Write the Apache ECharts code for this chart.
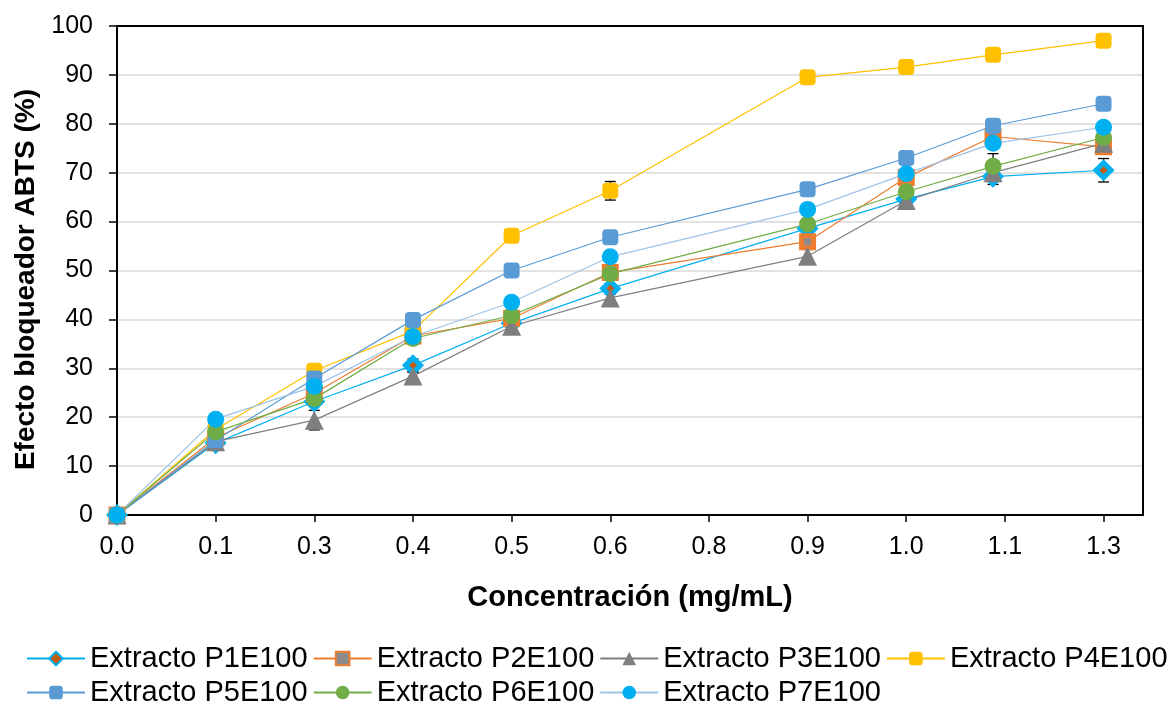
<!DOCTYPE html>
<html>
<head>
<meta charset="utf-8">
<script src="https://cdn.jsdelivr.net/npm/echarts@6/dist/echarts.min.js"></script>
<style>
  html, body { margin: 0; padding: 0; background: #ffffff; }
  #chart { width: 1171px; height: 706px; }
</style>
</head>
<body>
<div id="chart"></div>
<script>
// Concentrations (mg/mL) at which each extract was measured
const concentrations = [0, 0.125, 0.25, 0.375, 0.5, 0.625, 0.875, 1.0, 1.11, 1.25];

// X-axis tick positions and their printed labels
const xTickValues = [0, 0.125, 0.25, 0.375, 0.5, 0.625, 0.75, 0.875, 1.0, 1.125, 1.25];
const xTickLabels = ['0.0', '0.1', '0.3', '0.4', '0.5', '0.6', '0.8', '0.9', '1.0', '1.1', '1.3'];

const seriesNames = ['Extracto P1E100', 'Extracto P2E100', 'Extracto P3E100', 'Extracto P4E100',
                     'Extracto P5E100', 'Extracto P6E100', 'Extracto P7E100'];

// ABTS blocking effect (%) per extract
const p1 = [0, 14.7, 23.2, 30.6, 39.2, 46.3, 58.6, 64.6, 69.2, 70.5];
const p2 = [0, 15.8, 24.9, 36.6, 40.2, 49.6, 55.9, 69.0, 77.4, 75.3];
const p3 = [0, 15.0, 19.4, 28.4, 38.6, 44.4, 52.9, 64.3, 70.0, 76.0];
const p4 = [0, 17.5, 29.5, 37.6, 57.1, 66.3, 89.5, 91.6, 94.1, 97.0];
const p5 = [0, 15.3, 27.9, 39.9, 50.0, 56.8, 66.6, 73.0, 79.6, 84.1];
const p6 = [0, 17.0, 23.8, 36.1, 40.8, 49.3, 59.5, 66.1, 71.3, 77.2];
const p7 = [0, 19.6, 26.3, 36.5, 43.5, 52.8, 62.5, 69.8, 76.0, 79.3];

// Standard deviations (%)
const p1Err = [0, 0.6, 0.8, 1.3, 0.8, 0.9, 0.8, 0.8, 1.6, 2.4];
const p2Err = [0, 0.6, 0.8, 0.8, 0.8, 0.8, 0.8, 0.8, 0.8, 0.8];
const p3Err = [0, 0.6, 2.0, 0.8, 1.2, 0.8, 1.4, 0.8, 0.8, 0.8];
const p4Err = [0, 0.6, 0.8, 0.8, 0.8, 1.9, 0.8, 0.8, 0.8, 0.8];
const p5Err = [0, 0.6, 0.8, 0.8, 0.8, 0.8, 0.8, 0.8, 0.8, 0.8];
const p6Err = [0, 0.6, 0.8, 0.8, 0.8, 0.8, 0.8, 0.8, 2.6, 0.8];
const p7Err = [0, 0.6, 0.8, 0.8, 0.8, 0.8, 0.8, 0.8, 0.8, 0.8];

const FONT = 'Liberation Sans, Arial, sans-serif';

const styles = [
  { line: '#00b0f0', symbol: 'diamond',  size: 15, fill: '#c55a11', border: '#00b0f0', bw: 5 },
  { line: '#ed7d31', symbol: 'rect',     size: 12, fill: '#8c8c8c', border: '#ed7d31', bw: 5 },
  { line: '#7f7f7f', symbol: 'triangle', size: 19, fill: '#7f7f7f', border: '#7f7f7f', bw: 0 },
  { line: '#ffc000', symbol: 'roundRect',size: 16, fill: '#ffc000', border: '#ffc000', bw: 0 },
  { line: '#5b9bd5', symbol: 'roundRect',size: 16, fill: '#5b9bd5', border: '#5b9bd5', bw: 0 },
  { line: '#70ad47', symbol: 'circle',   size: 17, fill: '#70ad47', border: '#70ad47', bw: 0 },
  { line: '#9dc3e6', symbol: 'circle',   size: 17, fill: '#00b0f0', border: '#00b0f0', bw: 0 }
];

const values = [p1, p2, p3, p4, p5, p6, p7];
const errors = [p1Err, p2Err, p3Err, p4Err, p5Err, p6Err, p7Err];

function errorBarRenderer(params, api) {
  const x = api.value(0), y = api.value(1), e = api.value(2);
  if (!e) return null;
  const top = api.coord([x, y + e]);
  const bot = api.coord([x, y - e]);
  const half = 5.5;
  const style = { stroke: '#000000', lineWidth: 1.3 };
  return {
    type: 'group',
    children: [
      { type: 'line', shape: { x1: top[0], y1: top[1], x2: bot[0], y2: bot[1] }, style: style },
      { type: 'line', shape: { x1: top[0] - half, y1: top[1], x2: top[0] + half, y2: top[1] }, style: style },
      { type: 'line', shape: { x1: bot[0] - half, y1: bot[1], x2: bot[0] + half, y2: bot[1] }, style: style }
    ]
  };
}

const series = [];
values.forEach(function (vals, i) {
  series.push({
    name: seriesNames[i] + ' err',
    type: 'custom',
    renderItem: errorBarRenderer,
    data: concentrations.map(function (c, k) { return [c, vals[k], errors[i][k]]; }),
    z: 1,
    silent: true
  });
});
values.forEach(function (vals, i) {
  const s = styles[i];
  series.push({
    name: seriesNames[i],
    type: 'line',
    data: concentrations.map(function (c, k) { return [c, vals[k]]; }),
    symbol: s.symbol,
    symbolSize: s.size,
    showAllSymbol: true,
    lineStyle: { color: s.line, width: 1.2 },
    itemStyle: { color: s.fill, borderColor: s.border, borderWidth: s.bw },
    emphasis: { disabled: true },
    z: 2,
    animation: false
  });
});

// Frame lines along the top and right edges of the plot
const frameLine = { show: true, onZero: false, lineStyle: { color: '#000000', width: 2 } };

const chart = echarts.init(document.getElementById('chart'), null, { renderer: 'canvas' });
chart.setOption({
  animation: false,
  backgroundColor: '#ffffff',
  textStyle: { fontFamily: FONT },
  grid: { left: 117, top: 26, right: 28, bottom: 191 },
  legend: {
    data: seriesNames,
    left: 21,
    top: 639,
    itemWidth: 58,
    itemHeight: 17,
    itemGap: 5,
    width: 1160,
    textStyle: { fontFamily: FONT, fontSize: 29, lineHeight: 29, color: '#000000' }
  },
  xAxis: [{
    type: 'value',
    min: 0,
    max: 1.3,
    interval: 0.125,
    name: 'Concentración (mg/mL)',
    nameLocation: 'middle',
    nameGap: 68,
    nameTextStyle: { fontFamily: FONT, fontSize: 29, fontWeight: 'bold', color: '#000000' },
    axisLine: { show: true, onZero: false, lineStyle: { color: '#000000', width: 2 } },
    axisTick: { show: true, inside: false, length: 7, customValues: xTickValues, lineStyle: { color: '#000000', width: 1.5 } },
    axisLabel: {
      customValues: xTickValues,
      fontFamily: FONT, fontSize: 25, color: '#000000', margin: 20,
      formatter: function (v) {
        const i = xTickValues.findIndex(function (t) { return Math.abs(t - v) < 1e-6; });
        return i >= 0 ? xTickLabels[i] : '';
      }
    },
    splitLine: { show: false }
  }, {
    type: 'value',
    position: 'top',
    min: 0,
    max: 1.3,
    axisLine: frameLine,
    axisTick: { show: false },
    axisLabel: { show: false },
    splitLine: { show: false }
  }],
  yAxis: [{
    type: 'value',
    min: 0,
    max: 100,
    interval: 10,
    name: 'Efecto bloqueador ABTS (%)',
    nameLocation: 'middle',
    nameGap: 68,
    nameTextStyle: { fontFamily: FONT, fontSize: 28, fontWeight: 'bold', color: '#000000', padding: [0, 18, 0, 0] },
    axisLine: { show: true, lineStyle: { color: '#000000', width: 2 } },
    axisTick: { show: true, inside: false, length: 8, lineStyle: { color: '#000000', width: 1.5 } },
    axisLabel: { fontFamily: FONT, fontSize: 25, color: '#000000', margin: 24 },
    splitLine: { show: true, lineStyle: { color: '#d9d9d9', width: 1.5 } }
  }, {
    type: 'value',
    position: 'right',
    min: 0,
    max: 100,
    axisLine: frameLine,
    axisTick: { show: false },
    axisLabel: { show: false },
    splitLine: { show: false }
  }],
  series: series
});
</script>
</body>
</html>
